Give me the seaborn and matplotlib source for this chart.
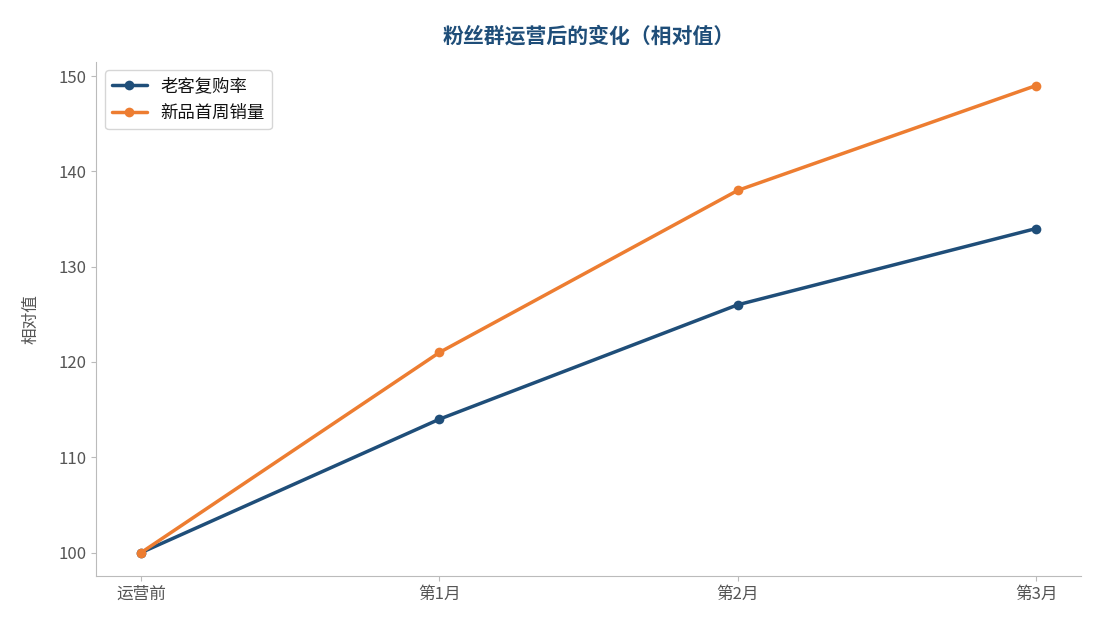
import matplotlib
matplotlib.use("Agg")
import matplotlib.pyplot as plt
import seaborn as sns
import pandas as pd

stages = ["运营前", "第1月", "第2月", "第3月"]
repurchase = [100, 114, 126, 134]
new_sales = [100, 121, 138, 149]
series_names = ["老客复购率", "新品首周销量"]

sns.set_style("ticks")
plt.rcParams['font.family'] = ['Noto Sans CJK SC', 'DejaVu Sans']

df = pd.DataFrame({
    "stage": stages * 2,
    "x": list(range(len(stages))) * 2,
    "value": repurchase + new_sales,
    "series": [series_names[0]] * 4 + [series_names[1]] * 4,
})

fig, ax = plt.subplots(figsize=(10.95, 6.3), dpi=100)
fig.subplots_adjust(left=0.088, right=0.987, top=0.902, bottom=0.085)
sns.lineplot(data=df, x="x", y="value", hue="series", marker="o",
             palette=["#1f4e79", "#ed7d31"], linewidth=2.5, markersize=7,
             markeredgewidth=0, ax=ax)
ax.set_xticks(range(len(stages)))
ax.set_xticklabels(stages)
ax.set_xlim(-0.15, 3.15)
ax.set_ylim(97.5, 151.5)
ax.set_yticks([100, 110, 120, 130, 140, 150])
ax.set_xlabel("")
ax.set_ylabel("相对值", color="#555555", fontsize=12, labelpad=14)
ax.set_title("粉丝群运营后的变化（相对值）", fontsize=15, fontweight="bold",
             color="#1f4e79", pad=14)
for s in ["top", "right"]:
    ax.spines[s].set_visible(False)
for s in ["left", "bottom"]:
    ax.spines[s].set_color("#bbbbbb")
ax.tick_params(colors="#555555", labelsize=12)
ax.tick_params(axis="both", color="#bbbbbb")
leg = ax.legend(title=None, loc="upper left", fontsize=12.5, frameon=True,
                edgecolor="#cccccc")
for t in leg.get_texts():
    t.set_color("#111111")
fig.savefig("out.png", dpi=100)
